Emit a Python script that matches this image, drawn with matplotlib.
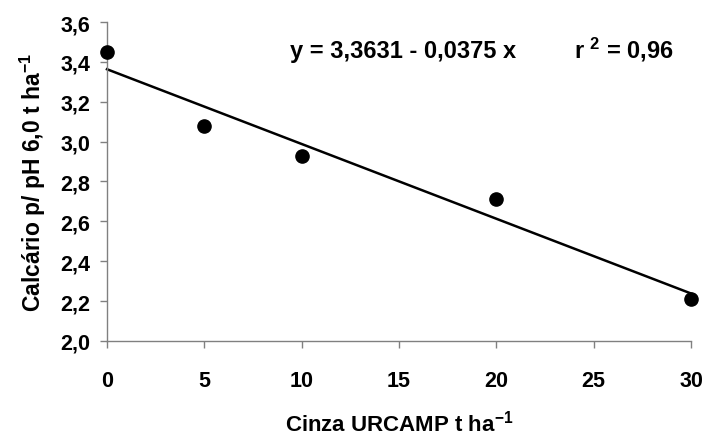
import matplotlib

matplotlib.use("Agg")
import matplotlib.pyplot as plt
import numpy as np
from matplotlib.ticker import FuncFormatter

# doses of URCAMP ash (t/ha) and lime requirement for pH 6.0 (t/ha)
cinza = [0, 5, 10, 20, 30]
calcario = [3.45, 3.08, 2.93, 2.71, 2.21]
intercept = 3.3631
slope = -0.0375
x_ticks = [0, 5, 10, 15, 20, 25, 30]
y_ticks = [2.0, 2.2, 2.4, 2.6, 2.8, 3.0, 3.2, 3.4, 3.6]

plt.rcParams["font.family"] = ["Liberation Sans", "DejaVu Sans"]
plt.rcParams["font.weight"] = "bold"
plt.rcParams["mathtext.fontset"] = "custom"
plt.rcParams["mathtext.rm"] = "Liberation Sans:bold"
plt.rcParams["mathtext.it"] = "Liberation Sans:bold"
plt.rcParams["mathtext.bf"] = "Liberation Sans:bold"

fig = plt.figure(figsize=(7.08, 4.39), dpi=100)
ax = fig.add_axes([0.1511, 0.221, 0.825, 0.7266])

xs = np.array([cinza[0], cinza[-1]])
ax.plot(xs, intercept + slope * xs, color="black", lw=1.8, clip_on=False)
ax.plot(cinza, calcario, "o", color="black", ms=9.5, clip_on=False, zorder=3)

ax.set_xlim(0, 30)
ax.set_ylim(2.0, 3.6)
ax.set_xticks(x_ticks)
ax.set_yticks(y_ticks)
ax.xaxis.set_major_formatter(FuncFormatter(lambda v, _: f"{v:.0f}"))
ax.yaxis.set_major_formatter(FuncFormatter(lambda v, _: f"{v:.1f}".replace(".", ",")))

for side in ("top", "right"):
    ax.spines[side].set_visible(False)
for side in ("left", "bottom"):
    ax.spines[side].set_color("#808080")
    ax.spines[side].set_linewidth(1.0)
ax.tick_params(axis="both", colors="#808080", length=5, width=1.0, labelcolor="black")
ax.tick_params(axis="x", labelsize=15.5, pad=16)
ax.tick_params(axis="y", labelsize=15.5, pad=7)

ax.set_xlabel(r"Cinza URCAMP t ha$^{-1}$", fontsize=16, fontweight="bold", labelpad=13)
ax.set_ylabel(r"Calcário p/ pH 6,0 t ha$^{-1}$", fontsize=16.5, fontweight="bold", labelpad=9)

ax.text(0.313, 0.89, "y = 3,3631 - 0,0375 x", transform=ax.transAxes,
        fontsize=17, fontweight="bold", ha="left", va="baseline")
ax.text(0.80, 0.89, r"r $^{2}$ = 0,96", transform=ax.transAxes,
        fontsize=17, fontweight="bold", ha="left", va="baseline")

fig.savefig("out.png", dpi=100)
